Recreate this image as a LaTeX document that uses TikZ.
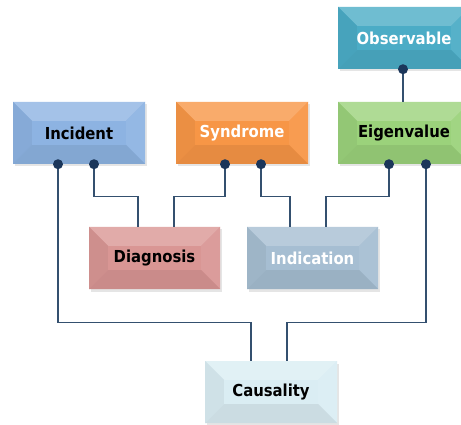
\documentclass[tikz,border=0pt]{standalone}
\usepackage{fontspec}
\setmainfont{DejaVu Sans Condensed}[BoldFont={DejaVu Sans Condensed Bold}]
\usetikzlibrary{shadows}
\definecolor{linkc}{HTML}{34506F}
\definecolor{dotc}{HTML}{1B365A}
\definecolor{cInc}{HTML}{8DB3E2}
\definecolor{cSyn}{HTML}{F79646}
\definecolor{cEig}{HTML}{9BD27B}
\definecolor{cObs}{HTML}{4BACC6}
\definecolor{cDia}{HTML}{D99694}
\definecolor{cInd}{HTML}{A6BED2}
\definecolor{cCau}{HTML}{DAEDF3}
\tikzset{
  bevbox/.style={
    minimum width=132pt, minimum height=62pt, inner sep=0pt,
    fill=#1, font=\bfseries\fontsize{16.5}{18}\selectfont,
    drop shadow={opacity=0.2, shadow xshift=1.5pt, shadow yshift=-2.5pt},
    path picture={
      % top facet
      \fill[#1!80!white]
        (path picture bounding box.north west) -- (path picture bounding box.north east)
        -- ([shift={(-19pt,-19pt)}]path picture bounding box.north east)
        -- ([shift={(19pt,-19pt)}]path picture bounding box.north west) -- cycle;
      % left facet
      \fill[#1!95!black]
        (path picture bounding box.north west) -- ([shift={(19pt,-19pt)}]path picture bounding box.north west)
        -- ([shift={(19pt,19pt)}]path picture bounding box.south west)
        -- (path picture bounding box.south west) -- cycle;
      % right facet
      \fill[#1!94!white]
        (path picture bounding box.north east) -- ([shift={(-19pt,-19pt)}]path picture bounding box.north east)
        -- ([shift={(-19pt,19pt)}]path picture bounding box.south east)
        -- (path picture bounding box.south east) -- cycle;
      % bottom facet
      \fill[#1!93!black]
        (path picture bounding box.south west) -- (path picture bounding box.south east)
        -- ([shift={(-19pt,19pt)}]path picture bounding box.south east)
        -- ([shift={(19pt,19pt)}]path picture bounding box.south west) -- cycle;
      % face
      \fill[#1]
        ([shift={(19pt,-19pt)}]path picture bounding box.north west) rectangle
        ([shift={(-19pt,19pt)}]path picture bounding box.south east);
    }},
  link/.style={draw=linkc, line width=1.3pt},
  dot/.style={fill=dotc}
}
\begin{document}
\begin{tikzpicture}[x=1pt, y=-1pt]
\useasboundingbox (0,0) rectangle (461,425);
\fill[white] (0,0) rectangle (461,425);

\node[bevbox=cObs, text=white] (obs) at (404,38)  {Observable};
\node[bevbox=cInc, text=black] (inc) at (79,133)  {Incident};
\node[bevbox=cSyn, text=white] (syn) at (242,133) {Syndrome};
\node[bevbox=cEig, text=black] (eig) at (404,133) {Eigenvalue};
\node[bevbox=cDia, text=black, minimum width=131pt] (dia) at (154.5,258) {Diagnosis};
\node[bevbox=cInd, text=white, minimum width=131pt] (ind) at (312.5,258) {Indication};
\node[bevbox=cCau, text=black] (cau) at (271,392) {Causality};

% connection points on the lower edges
\coordinate (o1) at ([xshift=-1pt]obs.south);
\coordinate (i1) at ([xshift=-21pt]inc.south);
\coordinate (i2) at ([xshift=15pt]inc.south);
\coordinate (s1) at ([xshift=-17pt]syn.south);
\coordinate (s2) at ([xshift=19pt]syn.south);
\coordinate (e1) at ([xshift=-15pt]eig.south);
\coordinate (e2) at ([xshift=22pt]eig.south);

% connectors
\draw[link] (o1) -- (o1 |- eig.north);
\draw[link] (i2) -- ++(0,32) -| ([xshift=-16.5pt]dia.north);
\draw[link] (s1) -- ++(0,32) -| ([xshift=19.5pt]dia.north);
\draw[link] (s2) -- ++(0,32) -| ([xshift=-22.5pt]ind.north);
\draw[link] (e1) -- ++(0,32) -| ([xshift=13.5pt]ind.north);
\draw[link] (i1) -- ++(0,158) -| ([xshift=-20pt]cau.north);
\draw[link] (e2) -- ++(0,158) -| ([xshift=16pt]cau.north);

% dots
\foreach \p in {o1,i1,i2,s1,s2,e1,e2}
  \fill[dot] (\p) circle (5pt);
\end{tikzpicture}
\end{document}
